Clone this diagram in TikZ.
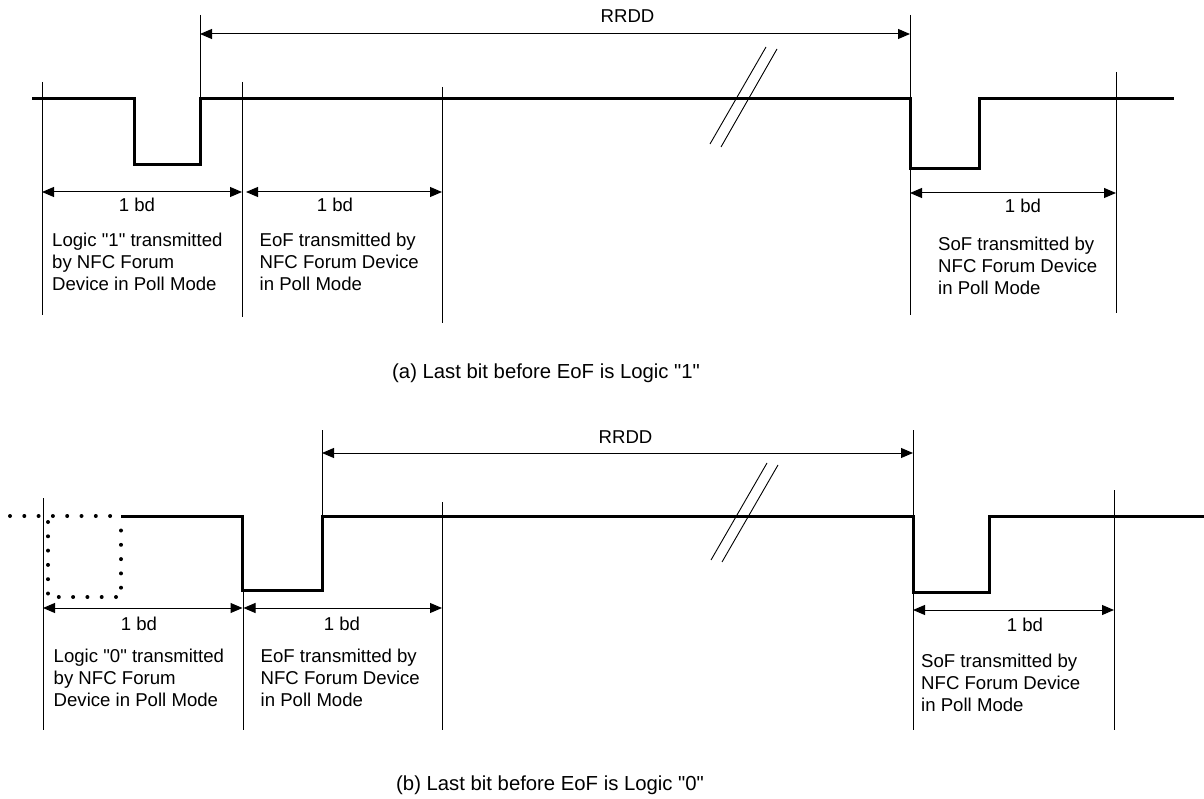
\documentclass[tikz,border=0pt]{standalone}
\usepackage{fontspec}
\setmainfont{Liberation Sans}[Ligatures=TeXOff]
\usetikzlibrary{arrows.meta}
\newcommand{\dq}{\symbol{34}}
\begin{document}
\begin{tikzpicture}[x=1pt,y=-1pt,
  sig/.style={line width=3pt, line join=miter},
  thin/.style={line width=1pt},
  tri/.tip={Triangle[length=12pt,width=10pt]},
  dim/.style={line width=1pt, tri-tri},
  brk/.style={line width=0.9pt},
  dotline/.style={line width=4pt, line cap=round, dash pattern=on 0pt off 14.3pt},
  lbl/.style={inner sep=0pt, font=\fontsize{18.6}{22}\selectfont},
  blk/.style={inner sep=0pt, anchor=base west, font=\fontsize{18.6}{22}\selectfont},
  captxt/.style={inner sep=0pt, anchor=base west, font=\fontsize{20.3}{24}\selectfont}
]
\useasboundingbox (0,0) rectangle (1204,799);

% ================= panel (a) =================
\coordinate (aR1t) at (200,15);  \coordinate (aR1b) at (200,99);
\coordinate (aR2t) at (910,15);  \coordinate (aR2b) at (910,315);
\coordinate (aRl) at (200,34);   \coordinate (aRr) at (910,34);
% vertical guide lines
\draw[thin] (aR1t) -- (aR1b);
\draw[thin] (aR2t) -- (aR2b);
\draw[thin] (42,82) coordinate (aV1t) -- (42,315) coordinate (aV1b);
\draw[thin] (242,82) coordinate (aV2t) -- (242,317) coordinate (aV2b);
\draw[thin] (442,87) coordinate (aV3t) -- (442,323) coordinate (aV3b);
\draw[thin] (1116,72) coordinate (aV4t) -- (1116,313) coordinate (aV4b);
% RRDD
\draw[dim] (aRl) -- (aRr);
\node[lbl, anchor=base west] (aRRDD) at (600.5,23) {RRDD};
% signal
\draw[sig] (32,99) -- (134,99) -- (134,165) -- (200,165) -- (200,99) -- (910,99)
  -- (910,169) -- (979,169) -- (979,99) -- (1174,99);
% break
\draw[brk] (710,144) -- (766,47);
\draw[brk] (721,147) -- (777,49);
% 1 bd arrows
\coordinate (aA1l) at (42,192);  \coordinate (aA1r) at (242,192);
\coordinate (aA2l) at (246,192); \coordinate (aA2r) at (442,192);
\coordinate (aA3l) at (910,193); \coordinate (aA3r) at (1116,193);
\draw[dim] (aA1l) -- (aA1r);
\draw[dim] (aA2l) -- (aA2r);
\draw[dim] (aA3l) -- (aA3r);
\node[lbl, anchor=base] (aB1) at (137,212) {1 bd};
\node[lbl, anchor=base] (aB2) at (335,212) {1 bd};
\node[lbl, anchor=base] (aB3) at (1023,213) {1 bd};
% text blocks
\node[blk] (aT1) at (52,247) {\begin{tabular}[t]{@{}l@{}}Logic \dq1\dq{} transmitted\\by NFC Forum\\Device in Poll Mode\end{tabular}};
\node[blk] (aT2) at (259.5,247) {\begin{tabular}[t]{@{}l@{}}EoF transmitted by\\NFC Forum Device\\in Poll Mode\end{tabular}};
\node[blk] (aT3) at (938,251) {\begin{tabular}[t]{@{}l@{}}SoF transmitted by\\NFC Forum Device\\in Poll Mode\end{tabular}};
\node[captxt] (aCap) at (392,378) {(a) Last bit before EoF is Logic \dq1\dq};

% ================= panel (b) =================
\coordinate (bR1t) at (322,430);  \coordinate (bR1b) at (322,516);
\coordinate (bR2t) at (913,430);  \coordinate (bR2b) at (913,730);
\coordinate (bRl) at (322,453);   \coordinate (bRr) at (913,453);
\draw[thin] (bR1t) -- (bR1b);
\draw[thin] (bR2t) -- (bR2b);
\draw[thin] (43,498) coordinate (bV1t) -- (43,730) coordinate (bV1b);
\draw[thin] (243,516) coordinate (bV2t) -- (243,730) coordinate (bV2b);
\draw[thin] (442,502) coordinate (bV3t) -- (442,730) coordinate (bV3b);
\draw[thin] (1114,490) coordinate (bV4t) -- (1114,730) coordinate (bV4b);
% RRDD
\draw[dim] (bRl) -- (bRr);
\node[lbl, anchor=base west] (bRRDD) at (598.5,443) {RRDD};
% dotted alternative
\draw[dotline] (10,516) -- (121,516);
\draw[dotline] (48,522) -- (48,597) -- (121,597) -- (121,525);
% signal
\draw[sig] (121,516) -- (242,516) -- (242,590) -- (322,590) -- (322,516) -- (913,516)
  -- (913,592) -- (989,592) -- (989,516) -- (1204,516);
% break
\draw[brk] (711,560) -- (767,463);
\draw[brk] (722,562) -- (778,465);
% 1 bd arrows
\coordinate (bA1l) at (43,608);  \coordinate (bA1r) at (242.5,608);
\coordinate (bA2l) at (243.5,608); \coordinate (bA2r) at (442,608);
\coordinate (bA3l) at (913,610); \coordinate (bA3r) at (1114,610);
\draw[dim] (bA1l) -- (bA1r);
\draw[dim] (bA2l) -- (bA2r);
\draw[dim] (bA3l) -- (bA3r);
\node[lbl, anchor=base] (bB1) at (139,630) {1 bd};
\node[lbl, anchor=base] (bB2) at (342,630) {1 bd};
\node[lbl, anchor=base] (bB3) at (1025,631) {1 bd};
% text blocks
\node[blk] (bT1) at (53.5,662) {\begin{tabular}[t]{@{}l@{}}Logic \dq0\dq{} transmitted\\by NFC Forum\\Device in Poll Mode\end{tabular}};
\node[blk] (bT2) at (260.5,662) {\begin{tabular}[t]{@{}l@{}}EoF transmitted by\\NFC Forum Device\\in Poll Mode\end{tabular}};
\node[blk] (bT3) at (921,667) {\begin{tabular}[t]{@{}l@{}}SoF transmitted by\\NFC Forum Device\\in Poll Mode\end{tabular}};
\node[captxt] (bCap) at (396,790) {(b) Last bit before EoF is Logic \dq0\dq};
\end{tikzpicture}
\end{document}
